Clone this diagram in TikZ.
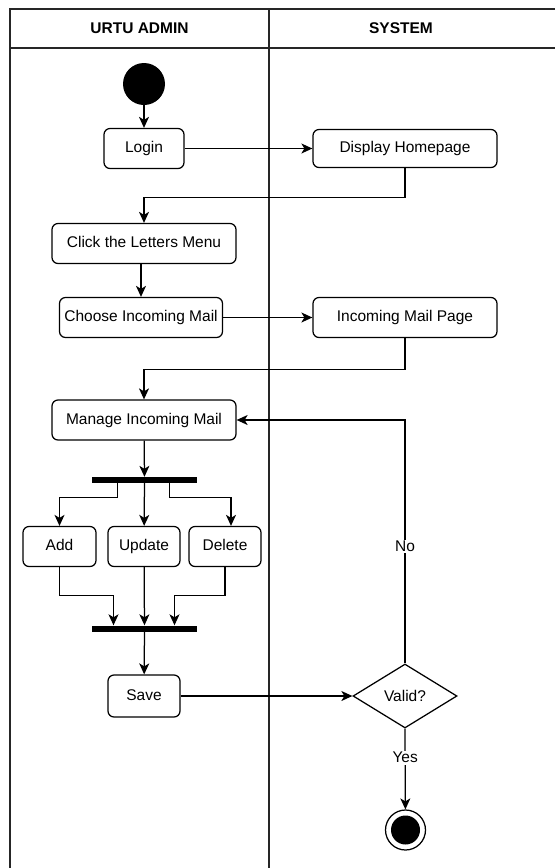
\documentclass[tikz,border=0pt]{standalone}
\usepackage{fontspec}
\setmainfont{Liberation Sans}
\usetikzlibrary{arrows.meta,calc,shapes.geometric}
\tikzset{
	act/.style={draw, rounded corners=6pt, line width=1.25pt, minimum height=40pt, inner xsep=3pt, text height=11pt, text depth=3pt, font=\fontsize{15.5}{18}\selectfont},
	bar/.style={fill=black, minimum width=105pt, minimum height=6pt, inner sep=0pt},
	arr/.style={line width=1.25pt, -{Stealth[length=11pt,width=10pt,inset=3pt]}},
	lbl/.style={fill=white, inner sep=1.5pt, font=\fontsize{15.5}{18}\selectfont},
	lane/.style={line width=1.3pt, color=black!85}
}
\begin{document}
\begin{tikzpicture}[x=1pt, y=-1pt]
			%%%%% START %%%%%
			\useasboundingbox (0,0) rectangle (555,868);
			
			\draw[lane] (555,9) -- (10,9) -- (10,868);
			\draw[lane] (10,48) -- (555,48);
			\draw[lane] (269,9) -- (269,868);
			\node[font=\fontsize{15.5}{18}\selectfont\bfseries] (hadmin) at (139.5,28.5) {URTU ADMIN};
			\node[font=\fontsize{15.5}{18}\selectfont\bfseries] (hsys) at (401,28.5) {SYSTEM};
			
			\node[circle, fill=black, minimum size=42pt, inner sep=0pt] (start) at (144,84) {};
			\node[act, minimum width=80pt] (login) at (144,148.5) {Login};
			\node[act, minimum width=184pt, minimum height=38pt] (home) at (405,148.5) {Display Homepage};
			\node[act, minimum width=184pt] (click) at (144,243.5) {Click the Letters Menu};
			\node[act, minimum width=163pt] (choose) at (141,317.5) {Choose Incoming Mail};
			\node[act, minimum width=184pt] (page) at (405,317.5) {Incoming Mail Page};
			\node[act, minimum width=184pt] (manage) at (144,420) {Manage Incoming Mail};
			
			\node[bar] (fork) at (144.5,480) {};
			\node[act, minimum width=73pt] (add) at (59.5,546.5) {Add};
			\node[act, minimum width=72pt] (update) at (144,546.5) {Update};
			\node[act, minimum width=72pt] (delete) at (225,546.5) {Delete};
			\node[bar] (join) at (144.5,628.5) {};
			
			\node[act, minimum width=72pt, minimum height=42pt] (save) at (144,696) {Save};
			\node[diamond, draw, line width=1.25pt, aspect=1.625, minimum width=104pt, minimum height=64pt, inner sep=0pt, font=\fontsize{15.5}{18}\selectfont] (valid) at (405,696) {Valid?};
			\node[circle, draw, line width=1.25pt, minimum size=40pt, inner sep=0pt,
				path picture={\fill (path picture bounding box.center) circle (14.5pt);}] (stop) at (405.5,830) {};
			
			\draw[arr] (start) -- (login);
			\draw[arr] (login) -- (home);
			\draw[arr] (home.south) -- ++(0,29) -| (click.north);
			\draw[arr] (click.south -| choose.north) -- (choose.north);
			\draw[arr] (choose) -- (page);
			\draw[arr] (page.south) -- ++(0,31) -| (manage.north);
			\draw[arr] (manage) -- (fork);
			
			\draw[arr] ([xshift=-27pt]fork.south) -- ++(0,14) -| (add.north);
			\draw[arr] (fork) -- (update);
			\draw[arr] ([xshift=25pt]fork.south) -- ++(0,14) -| ([xshift=6pt]delete.north);
			
			\draw[arr] (add.south) -- ++(0,28) -| ([xshift=-31pt]join.north);
			\draw[arr] (update) -- (join);
			\draw[arr] (delete.south) -- ++(0,28) -| ([xshift=30pt]join.north);
			
			\draw[arr] (join) -- (save);
			\draw[arr] (save) -- (valid);
			\draw[arr] (valid.north) |- node[lbl, pos=0.24] {No} (manage.east);
			\draw[arr] (valid.south) -- node[lbl, pos=0.36] {Yes} (stop);
			
			%%%%% END %%%%%
		\end{tikzpicture}
\end{document}
